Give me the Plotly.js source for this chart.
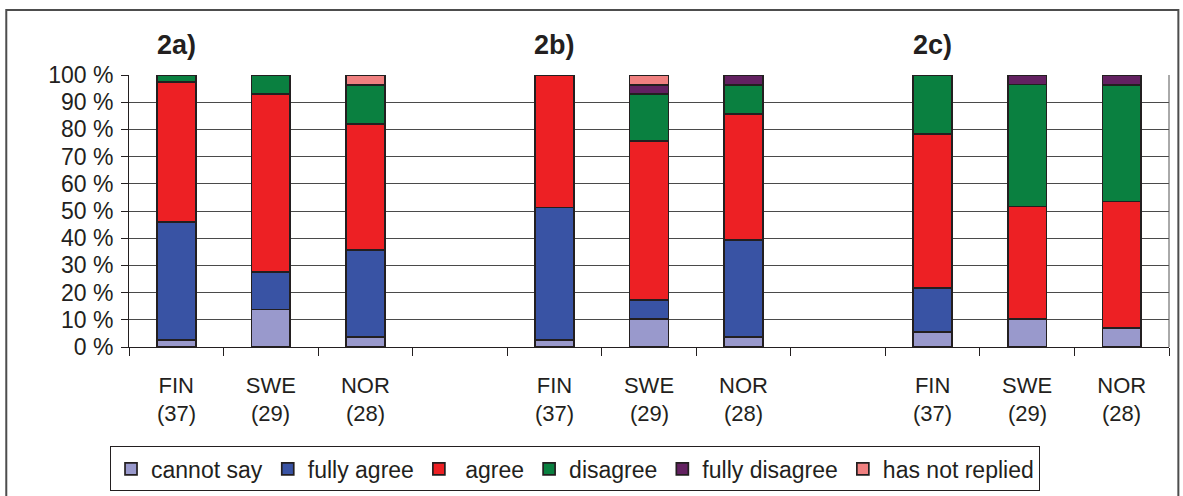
<!DOCTYPE html>
<html>
<head>
<meta charset="utf-8">
<script src="https://cdn.plot.ly/plotly-3.0.1.min.js"></script>
<style>html,body{margin:0;padding:0;background:#fff;}#chart{width:1183px;height:496px;}</style>
</head>
<body>
<div id="chart"></div>
<script>
// slot positions: 3 groups of FIN/SWE/NOR with an empty slot between groups
var positions = [0, 1, 2, 4, 5, 6, 8, 9, 10];
var countries = ["FIN", "SWE", "NOR", "FIN", "SWE", "NOR", "FIN", "SWE", "NOR"];
var respondents = ["(37)", "(29)", "(28)", "(37)", "(29)", "(28)", "(37)", "(29)", "(28)"];
var panelTitles = ["2a)", "2b)", "2c)"];
var panelPositions = [0, 4, 8];
var yTicks = [0, 10, 20, 30, 40, 50, 60, 70, 80, 90, 100];

// percentages per answer (null = no share)
var cannotSay     = [2.7, 13.8, 3.6, 2.7, 10.3, 3.6, 5.4, 10.3, 7.1];
var fullyAgree    = [43.2, 13.8, 32.1, 48.6, 6.9, 35.7, 16.2, null, null];
var agree         = [51.4, 65.5, 46.4, 48.6, 58.6, 46.4, 56.8, 41.4, 46.4];
var disagree      = [2.7, 6.9, 14.3, null, 17.2, 10.7, 21.6, 44.8, 42.9];
var fullyDisagree = [null, null, null, null, 3.4, 3.6, null, 3.4, 3.6];
var notReplied    = [null, null, 3.6, null, 3.4, null, null, null, null];

var seriesNames  = ["cannot say", "fully agree", " agree", "disagree", "fully disagree", "has not replied"];
var seriesValues = [cannotSay, fullyAgree, agree, disagree, fullyDisagree, notReplied];
var seriesColors = ["#9999CC", "#3953A4", "#ED2024", "#0A8040", "#632161", "#F08080"];

var FONT = "Liberation Sans, Arial, sans-serif";
var INK = "#231F20";

var traces = seriesNames.map(function (n, i) {
  return {
    type: "bar",
    name: n,
    x: positions,
    y: seriesValues[i],
    width: 0.41,
    marker: { color: seriesColors[i], line: { color: INK, width: 1.7 } },
    hoverinfo: "name+y"
  };
});

var annotations = [];
panelTitles.forEach(function (t, i) {
  annotations.push({
    x: panelPositions[i], xref: "x", y: 1.11, yref: "paper",
    text: "<b>" + t + "</b>", showarrow: false,
    font: { family: FONT, size: 27, color: INK },
    xanchor: "center", yanchor: "middle"
  });
});
respondents.forEach(function (r, i) {
  annotations.push({
    x: positions[i], xref: "x", y: -0.243, yref: "paper",
    text: r, showarrow: false,
    font: { family: FONT, size: 22, color: INK },
    xanchor: "center", yanchor: "middle"
  });
});

var layout = {
  width: 1183, height: 496,
  margin: { l: 129, r: 14, t: 75, b: 149, autoexpand: false },
  paper_bgcolor: "#ffffff", plot_bgcolor: "#ffffff",
  barmode: "stack",
  bargap: 0,
  showlegend: true,
  font: { family: FONT, size: 23, color: INK },
  xaxis: {
    range: [-0.5, 10.5],
    tickvals: positions,
    ticktext: countries,
    ticks: "",
    showgrid: false,
    zeroline: false,
    automargin: false,
    showline: true, linecolor: INK, linewidth: 1,
    tickfont: { family: FONT, size: 22, color: INK },
    ticklabelstandoff: 19,
    minor: { tick0: -0.5, dtick: 1, ticks: "outside", ticklen: 8, tickcolor: INK, tickwidth: 1, showgrid: false }
  },
  yaxis: {
    range: [0, 100],
    tickvals: yTicks,
    ticktext: yTicks.map(function (v) { return v + " %"; }),
    ticks: "outside", ticklen: 7, tickcolor: INK,
    ticklabelstandoff: 3,
    automargin: false,
    showgrid: true, gridcolor: "#4a4a4a", gridwidth: 1,
    zeroline: false,
    showline: true, linecolor: INK, linewidth: 1,
    tickfont: { family: FONT, size: 23, color: INK }
  },
  legend: {
    orientation: "h",
    xref: "container",
    x: 0.093, xanchor: "left",
    yref: "container",
    y: 0.1, yanchor: "top",
    traceorder: "normal",
    bordercolor: INK, borderwidth: 1,
    bgcolor: "#ffffff",
    font: { family: FONT, size: 23, color: INK },
    itemwidth: 30,
    tracegroupgap: 0
  },
  annotations: annotations,
  shapes: [
    { type: "rect", xref: "paper", yref: "paper", x0: -0.118, x1: 1.009, y0: -0.7, y1: 1.239,
      line: { color: "#4d4d4d", width: 2 }, fillcolor: "rgba(0,0,0,0)", layer: "below" },
    { type: "line", xref: "paper", yref: "paper", x0: 1, x1: 1, y0: 0, y1: 1,
      line: { color: "#555555", width: 1 } }
  ]
};

Plotly.newPlot("chart", traces, layout, { displayModeBar: false, staticPlot: true });
</script>
</body>
</html>
